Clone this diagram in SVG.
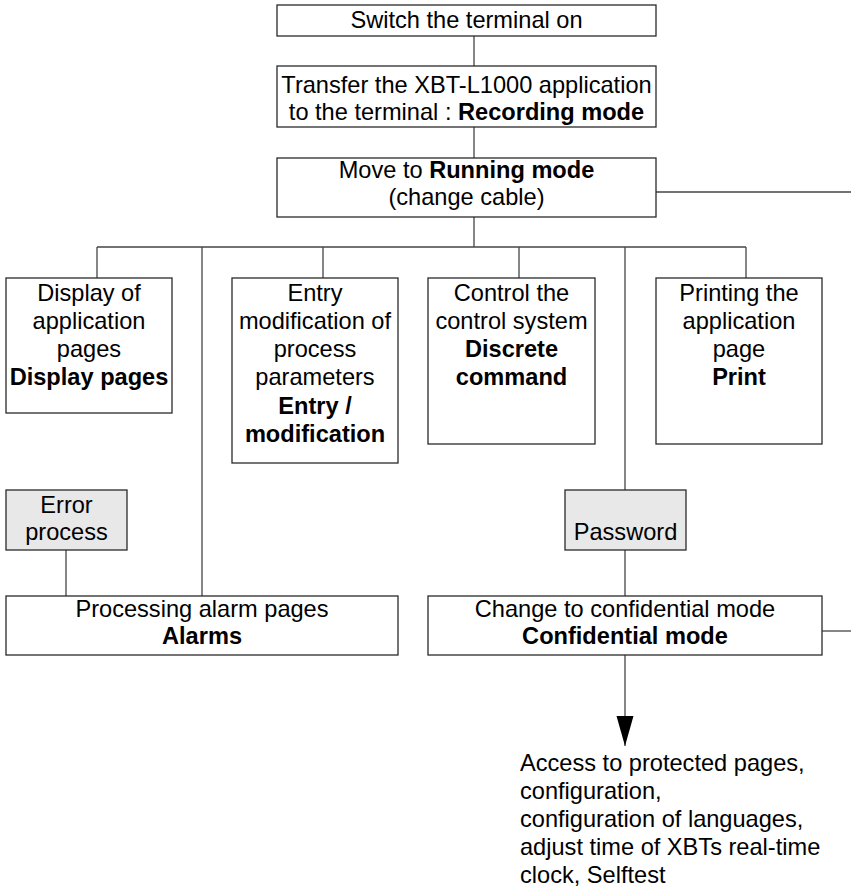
<svg xmlns="http://www.w3.org/2000/svg" width="851" height="888" viewBox="0 0 851 888">
<defs>
<style>
.box{fill:#ffffff;stroke:#2a2a2a;stroke-width:1.3}
.gbox{fill:#e8e8e8;stroke:#2a2a2a;stroke-width:1.3}
.ln{fill:none;stroke:#444444;stroke-width:1.3}
text{font-family:"Liberation Sans",Arial,sans-serif;font-size:23.6px;fill:#000000}
.c{text-anchor:middle}
.b{font-weight:bold}
</style>
<marker id="arr" markerUnits="userSpaceOnUse" markerWidth="31" markerHeight="18" refX="30" refY="9" orient="auto" viewBox="0 0 31 18">
<path d="M0,0.5 L30,9 L0,17.5 Z" fill="#000000"/>
</marker>
</defs>
<rect width="851" height="888" fill="#ffffff"/>
<g id="connectors">
<line class="ln" x1="474" y1="36" x2="474" y2="66"/>
<line class="ln" x1="474" y1="127" x2="474" y2="158"/>
<line class="ln" x1="474" y1="217" x2="474" y2="247"/>
<line class="ln" x1="656" y1="192" x2="851" y2="192"/>
<line class="ln" x1="97" y1="247" x2="746" y2="247"/>
<line class="ln" x1="97" y1="247" x2="97" y2="278"/>
<line class="ln" x1="202" y1="247" x2="202" y2="596"/>
<line class="ln" x1="323" y1="247" x2="323" y2="278"/>
<line class="ln" x1="519" y1="247" x2="519" y2="278"/>
<line class="ln" x1="625" y1="247" x2="625" y2="490"/>
<line class="ln" x1="746" y1="247" x2="746" y2="279"/>
<line class="ln" x1="66" y1="550" x2="66" y2="596"/>
<line class="ln" x1="625" y1="550" x2="625" y2="596"/>
<line class="ln" x1="822" y1="631" x2="851" y2="631"/>
<line class="ln" x1="625" y1="655" x2="625" y2="746" marker-end="url(#arr)"/>
</g>
<g id="switch-on">
<rect class="box" x="277" y="5" width="379" height="31"/>
<text class="c" x="466.5" y="28">Switch the terminal on</text>
</g>
<g id="transfer">
<rect class="box" x="277" y="66" width="379" height="61"/>
<text class="c" x="466.5" y="93">Transfer the XBT-L1000 application</text>
<text class="c" x="466.5" y="120">to the terminal : <tspan class="b">Recording mode</tspan></text>
</g>
<g id="running">
<rect class="box" x="277" y="158" width="379" height="59"/>
<text class="c" x="466.5" y="178">Move to <tspan class="b">Running mode</tspan></text>
<text class="c" x="466.5" y="205">(change cable)</text>
</g>
<g id="display">
<rect class="box" x="6" y="278" width="166" height="135"/>
<text class="c" x="89" y="301">Display of</text>
<text class="c" x="89" y="329">application</text>
<text class="c" x="89" y="357">pages</text>
<text class="c b" x="89" y="385">Display pages</text>
</g>
<g id="entry">
<rect class="box" x="232" y="278" width="166" height="185"/>
<text class="c" x="315" y="301">Entry</text>
<text class="c" x="315" y="329">modification of</text>
<text class="c" x="315" y="357">process</text>
<text class="c" x="315" y="385">parameters</text>
<text class="c b" x="315" y="414">Entry /</text>
<text class="c b" x="315" y="442">modification</text>
</g>
<g id="control">
<rect class="box" x="428" y="278" width="167" height="166"/>
<text class="c" x="511.5" y="301">Control the</text>
<text class="c" x="511.5" y="329">control system</text>
<text class="c b" x="511.5" y="357">Discrete</text>
<text class="c b" x="511.5" y="385">command</text>
</g>
<g id="print">
<rect class="box" x="656" y="278" width="166" height="166"/>
<text class="c" x="739" y="301">Printing the</text>
<text class="c" x="739" y="329">application</text>
<text class="c" x="739" y="357">page</text>
<text class="c b" x="739" y="385">Print</text>
</g>
<g id="error">
<rect class="gbox" x="6" y="490" width="121" height="60"/>
<text class="c" x="66.5" y="513">Error</text>
<text class="c" x="66.5" y="540">process</text>
</g>
<g id="password">
<rect class="gbox" x="565" y="490" width="121" height="60"/>
<text class="c" x="625.5" y="540">Password</text>
</g>
<g id="alarms">
<rect class="box" x="6" y="596" width="392" height="59"/>
<text class="c" x="202" y="617">Processing alarm pages</text>
<text class="c b" x="202" y="644">Alarms</text>
</g>
<g id="confidential">
<rect class="box" x="428" y="596" width="394" height="59"/>
<text class="c" x="625" y="617">Change to confidential mode</text>
<text class="c b" x="625" y="644">Confidential mode</text>
</g>
<g id="access">
<text x="520" y="771">Access to protected pages,</text>
<text x="520" y="799">configuration,</text>
<text x="520" y="827">configuration of languages,</text>
<text x="520" y="855">adjust time of XBTs real-time</text>
<text x="520" y="883">clock, Selftest</text>
</g>
</svg>
